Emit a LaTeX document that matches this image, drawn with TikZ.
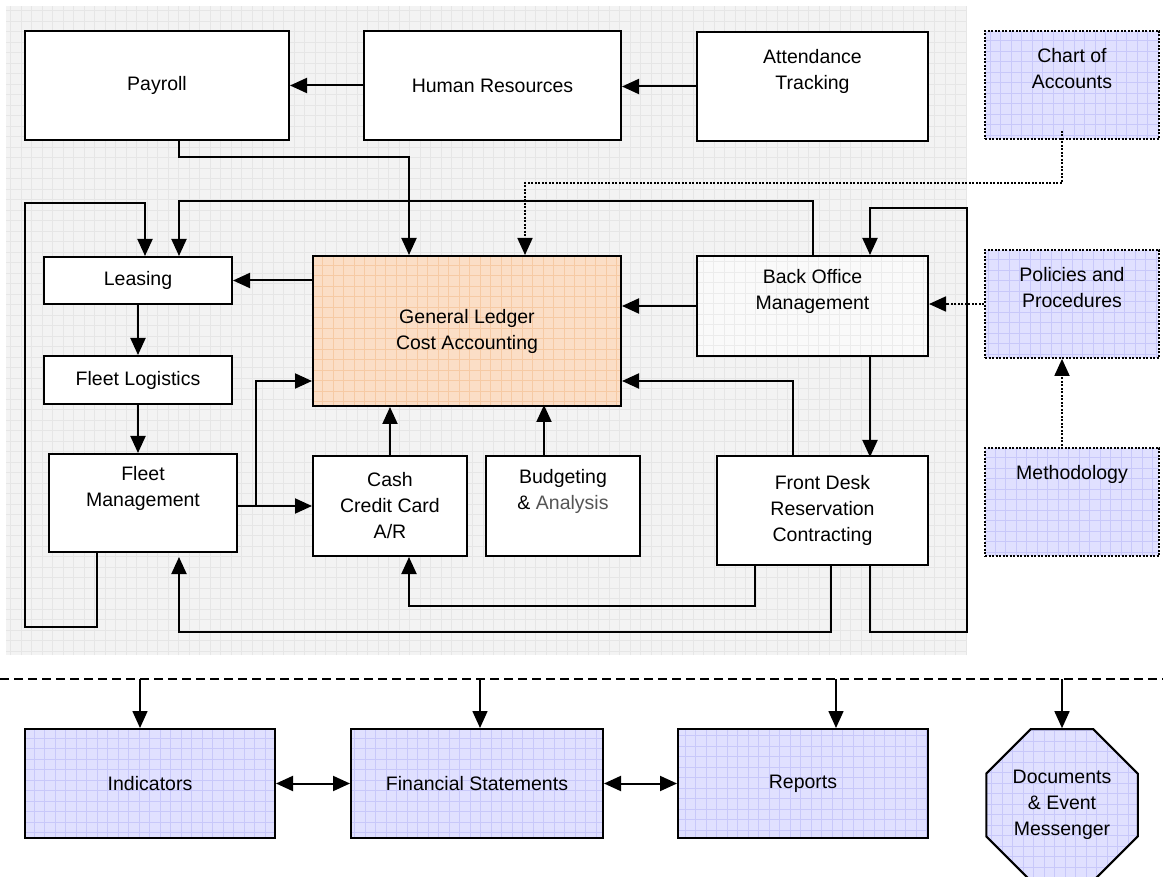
\documentclass[tikz,border=0pt]{standalone}
\usepackage{fontspec}
\setmainfont{Liberation Sans}
\usetikzlibrary{arrows.meta,shapes.geometric}

\definecolor{bgfill}{RGB}{243,243,243}
\definecolor{bggrid}{RGB}{230,230,230}
\definecolor{ledgerfill}{RGB}{251,222,198}
\definecolor{ledgergrid}{RGB}{246,202,164}
\definecolor{reffill}{RGB}{224,224,255}
\definecolor{refgrid}{RGB}{200,200,250}
\definecolor{officefill}{RGB}{250,250,250}
\definecolor{officegrid}{RGB}{236,236,236}
\definecolor{analysis}{RGB}{85,85,85}

\newcommand{\cellgrid}[1]{\draw[#1, solid, line width=0.7pt, step=10.5pt] (path picture bounding box.south west) grid (path picture bounding box.north east);}

\begin{document}
\begin{tikzpicture}[x=1pt,y=-1pt,>={Triangle[length=17pt,width=15pt]}]

\clip (0,0) rectangle (1163,877);
\fill[white] (0,0) rectangle (1163,877);

%background
\fill[bgfill] (6,6) rectangle (967,655);
\draw[bggrid, line width=0.6pt, step=10.5pt] (6,655) grid (967,6);

%blocks
\tikzstyle{modulebox} = [draw=black, line width=2pt, rectangle, fill=white, align=center, inner sep=0pt, font=\fontsize{19.5}{26}\selectfont]
\tikzstyle{ledgerbox} = [modulebox, fill=ledgerfill, path picture={\cellgrid{ledgergrid}}]
\tikzstyle{officebox} = [modulebox, fill=officefill, path picture={\cellgrid{officegrid}}]
\tikzstyle{refbox}    = [modulebox, fill=reffill, line width=1.8pt, dash pattern=on 2pt off 1.5pt, path picture={\cellgrid{refgrid}}]
\tikzstyle{outbox}    = [modulebox, fill=reffill, path picture={\cellgrid{refgrid}}]

%links
\tikzstyle{flow}    = [draw=black, line width=2pt, ->]
\tikzstyle{refflow} = [draw=black, line width=1.8pt, dash pattern=on 2pt off 1.5pt, ->]
\tikzstyle{busline} = [draw=black, line width=1.6pt, dash pattern=on 9pt off 5pt]

\node (payroll)   [modulebox, minimum width=264pt, minimum height=109pt] at (157,85.5)   {Payroll};
\node (hr)        [modulebox, minimum width=257pt, minimum height=109pt] at (492.5,85.5) {Human Resources};
\node (attend)    [modulebox, minimum width=231pt, minimum height=109pt] at (812.5,86.5) {Attendance\\Tracking\\\strut};
\node (chart)     [refbox,    minimum width=174pt, minimum height=108pt] at (1072,85)    {Chart of\\Accounts\\\strut};

\node (leasing)   [modulebox, minimum width=188pt, minimum height=47pt]  at (138,280.5)  {Leasing};
\node (gl)        [ledgerbox, minimum width=308pt, minimum height=150pt] at (467,331)    {General Ledger\\Cost Accounting};
\node (bo)        [officebox, minimum width=231pt, minimum height=100pt] at (812.5,306)  {Back Office\\Management\\\strut};
\node (policy)    [refbox,    minimum width=174pt, minimum height=108pt] at (1072,304)   {Policies and\\Procedures\\\strut};
\node (logistics) [modulebox, minimum width=188pt, minimum height=48pt]  at (138,380)    {Fleet Logistics};

\node (fleet)     [modulebox, minimum width=188pt, minimum height=98pt]  at (143,503)    {Fleet\\Management\\\strut};
\node (cash)      [modulebox, minimum width=154pt, minimum height=100pt] at (390,506)    {Cash\\Credit Card\\A/R};
\node (budget)    [modulebox, minimum width=154pt, minimum height=100pt] at (563,506)    {Budgeting\\\& {\color{analysis}Analysis}\\\strut};
\node (desk)      [modulebox, minimum width=211pt, minimum height=109pt] at (822.5,510.5) {Front Desk\\Reservation\\Contracting};
\node (method)    [refbox,    minimum width=174pt, minimum height=108pt] at (1072,502)   {Methodology\\\strut\\\strut};

\node (indic)     [outbox, minimum width=250pt, minimum height=109pt] at (150,783.5) {Indicators};
\node (statem)    [outbox, minimum width=252pt, minimum height=109pt] at (477,783.5) {Financial Statements};
\node (reports)   [outbox, minimum width=250pt, minimum height=109pt] at (803,783.5) {Reports};
\node (docs)      [outbox, regular polygon, regular polygon sides=8, minimum size=164pt] at (1062,805) {Documents\\\& Event\\Messenger};

%top row
\draw[flow] (hr) -- (payroll);
\draw[flow] (attend.west) -- (attend.west -| hr.east);
\draw[flow] ([xshift=22pt]payroll.south) -- ++(0,16) -| ([xshift=-58pt]gl.north);
\draw[refflow] ([xshift=-10pt,yshift=9pt]chart.south) -- ++(0,52) -| ([xshift=58pt]gl.north);

%middle
\draw[flow] (bo.north) -- ++(0,-54) -| ([xshift=41pt]leasing.north);
\draw[flow] ([xshift=-46pt]fleet.south) -- ++(0,74) -- ++(-72,0) -- ++(0,-424) -| ([xshift=7pt]leasing.north);
\draw[flow] (gl.west |- leasing) -- (leasing.east);
\draw[flow] (leasing) -- (logistics);
\draw[flow] (logistics.south) -- (logistics.south |- fleet.north);
\draw[flow] (fleet.east |- cash) -- (cash.west);
\draw[flow] (fleet.east |- cash) ++(18,0) |- ([yshift=-50pt]gl.west);
\draw[flow] (cash.north) -- (cash.north |- gl.south);
\draw[flow] ([xshift=-19pt]budget.north) -- ++(0,-50);
\draw[flow] ([xshift=-29.5pt]desk.north) |- ([yshift=-50pt]gl.east);
\draw[flow] ([xshift=-67.5pt]desk.south) -- ++(0,40) -| ([xshift=19pt]cash.south);
\draw[flow, shorten >=4pt] ([xshift=8.5pt]desk.south) -- ++(0,66) -| ([xshift=36pt]fleet.south);
\draw[flow] ([xshift=47.5pt]desk.south) -- ++(0,66) -- ++(97,0) -- ++(0,-424) -| ([xshift=57.5pt]bo.north);
\draw[flow] (bo.west) -- (bo.west -| gl.east);
\draw[flow] ([xshift=57.5pt]bo.south) -- ++(0,100);
\draw[refflow] (policy.west) -- (policy.west -| bo.east);
\draw[refflow] ([xshift=-10pt,yshift=-2pt]method.north) -- ([xshift=-10pt]policy.south);

%outputs
\coordinate (busl) at (0,679);
\coordinate (busr) at (1163,679);
\draw[busline] (busl) -- (busr);
\draw[flow, line width=1.6pt] ([xshift=-10pt]indic.north |- busl) -- ([xshift=-10pt]indic.north);
\draw[flow, line width=1.6pt] ([xshift=3pt]statem.north |- busl) -- ([xshift=3pt]statem.north);
\draw[flow, line width=1.6pt] ([xshift=33pt]reports.north |- busl) -- ([xshift=33pt]reports.north);
\draw[flow, line width=1.6pt] (docs.north |- busl) -- (docs.north);
\draw[flow, <->] (indic) -- (statem);
\draw[flow, <->] (statem) -- (reports);

\end{tikzpicture}
\end{document}
